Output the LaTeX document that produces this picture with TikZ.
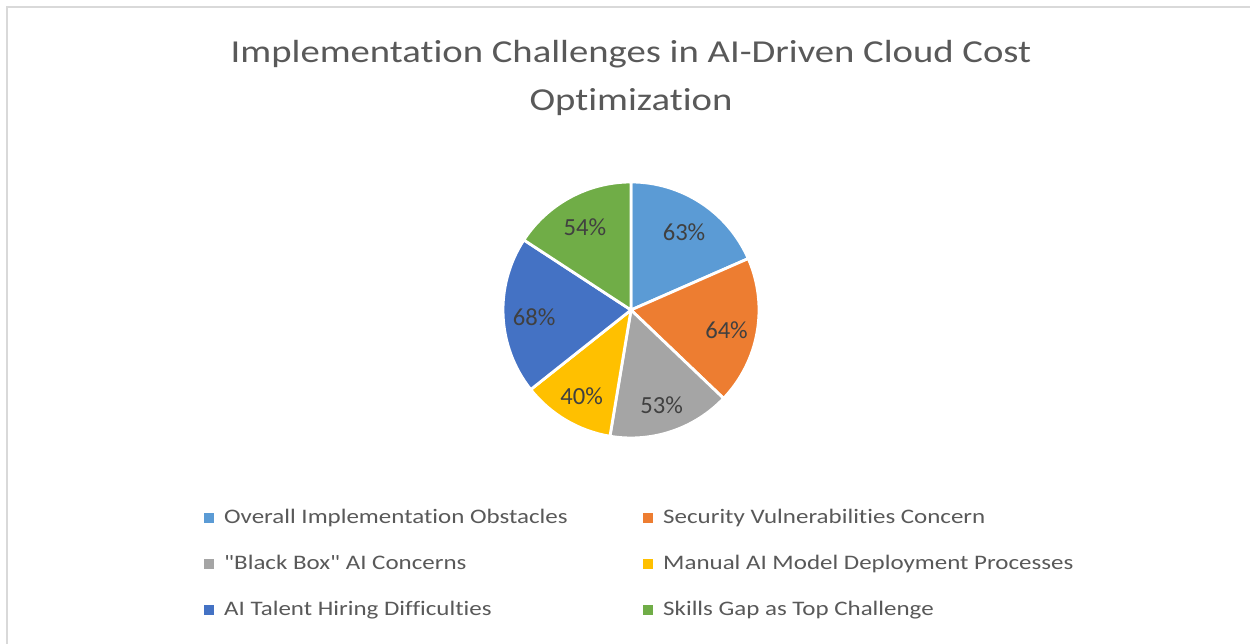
\documentclass[tikz,border=0pt]{standalone}
\usepackage{fontspec}
\setmainfont{Carlito}[Ligatures=NoCommon]
\newfontfamily\widefont{Carlito}[FakeStretch=1.21,Ligatures=NoCommon]
\usetikzlibrary{positioning}

\definecolor{overall}{HTML}{5B9BD5}
\definecolor{security}{HTML}{ED7D31}
\definecolor{blackbox}{HTML}{A5A5A5}
\definecolor{manual}{HTML}{FFC000}
\definecolor{talent}{HTML}{4472C4}
\definecolor{skills}{HTML}{70AD47}
\definecolor{framegray}{HTML}{D9D9D9}
\definecolor{textgray}{HTML}{595959}
\definecolor{labelgray}{HTML}{404040}

\tikzset{
  slice/.style={draw=white,line width=1.6pt,line join=round},
  pct/.style={text=labelgray,font=\fontsize{14}{16}\selectfont,yshift=-0.06cm},
  key/.style={fill=#1,minimum size=0.2cm,inner sep=0pt},
  entry/.style={text=textgray,font=\widefont\fontsize{11.75}{14}\selectfont,inner sep=0pt,
    text height=0.644em,text depth=0pt}
}

\begin{document}
\begin{tikzpicture}[x=0.02cm,y=0.02cm]
  \useasboundingbox (0,0) rectangle (1250,644);
  \fill[white] (0,0) rectangle (1250,644);
  \draw[framegray,line width=1.1pt] (7,0) -- (7,637) -- (1250,637);

  % title
  \node[text=textgray,font=\widefont\fontsize{18.2}{27.3}\selectfont,align=center] (title) at (631,566)
    {Implementation Challenges in AI-Driven Cloud Cost\\Optimization};

  % pie, clockwise from the top
  \coordinate (c) at (631,334);
  \foreach \a/\b/\col/\p in {90/23.68/overall/63, 23.68/-43.68/security/64,
      -43.68/-99.47/blackbox/53, -99.47/-141.58/manual/40,
      -141.58/-213.16/talent/68, -213.16/-270/skills/54}{
    \filldraw[fill=\col,slice] (c) -- ++(\a:128) arc[start angle=\a,end angle=\b,radius=128] -- cycle;
    \node[pct] (p\p) at ([shift={({(\a+\b)/2}:97)}]c) {\p\%};
  }

  % legend
  \foreach \x/\y/\col/\txt [count=\i] in {209/126/overall/Overall Implementation Obstacles,
      648/126/security/Security Vulnerabilities Concern,
      209/80/blackbox/{\char34}Black Box{\char34} AI Concerns,
      648/80/manual/Manual AI Model Deployment Processes,
      209/34/talent/AI Talent Hiring Difficulties,
      648/34/skills/Skills Gap as Top Challenge}{
    \node[key=\col] (k\i) at (\x,\y) {};
    \node[entry,right=0.19cm of k\i] (e\i) {\txt};
  }
\end{tikzpicture}
\end{document}
